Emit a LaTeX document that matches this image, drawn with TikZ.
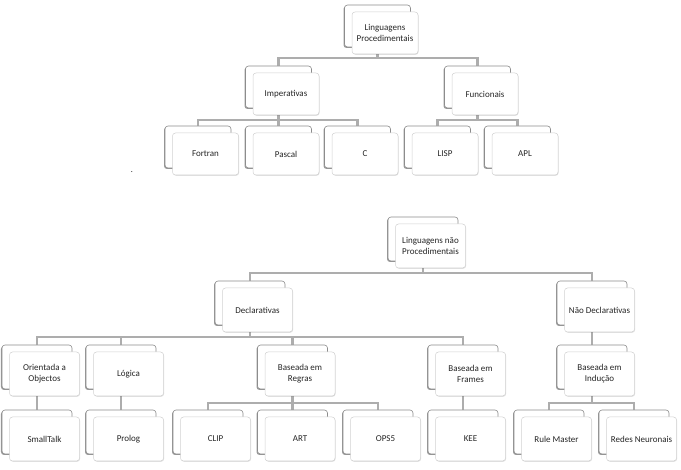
\documentclass[tikz,border=0pt]{standalone}
\usepackage{fontspec}
\setmainfont{Carlito}
\usetikzlibrary{shadows,backgrounds}
\tikzset{
  boxbase/.style={rounded corners=3pt, fill=white, inner sep=0pt, align=center,
    font=\fontsize{9}{11}\selectfont, text=black!85},
  backA/.style={boxbase, minimum width=66pt, minimum height=42pt, draw=black!45, line width=0.6pt,
    drop shadow={shadow xshift=-1pt, shadow yshift=-1pt, opacity=0.4, fill=black}},
  frontA/.style={boxbase, minimum width=66pt, minimum height=42pt, draw=black!18, line width=0.5pt,
    drop shadow={shadow xshift=0.6pt, shadow yshift=-0.8pt, opacity=0.12, fill=black}},
  backB/.style={backA, minimum width=70pt, minimum height=44pt},
  frontB/.style={frontA, minimum width=70pt, minimum height=44pt},
  conn/.style={draw=black!32, line width=2.4pt},
}
\newcommand\dbox[5]{%
  \node[back#1] (#2-b) at (#3,#4) {};
  \node[front#1] (#2) at ([shift={(7.5,7)}]#2-b.center) {#5};}
\begin{document}
\begin{tikzpicture}[x=1pt,y=-1pt]
\useasboundingbox (0,0) rectangle (681,470);
% bus levels
\coordinate (busA) at (0,58);
\coordinate (busB) at (0,120);
\coordinate (busC) at (0,273);
\coordinate (busD) at (0,337);
\coordinate (busE) at (0,403);
% top tree
\dbox{A}{lp}{377.5}{26}{Linguagens\\Procedimentais}
\dbox{A}{imp}{278.5}{87}{Imperativas}
\dbox{A}{fun}{477.5}{87}{Funcionais}
\dbox{A}{for}{198}{147}{Fortran}
\dbox{A}{pas}{278.5}{147}{Pascal}
\dbox{A}{c}{357.5}{147}{C}
\dbox{A}{lisp}{437.5}{147}{LISP}
\dbox{A}{apl}{517.5}{147}{APL}
\node[font=\fontsize{8}{10}\selectfont] (dot) at (132,172) {.};
% bottom tree
\dbox{B}{lnp}{423}{239}{Linguagens não\\Procedimentais}
\dbox{B}{dec}{250}{303}{Declarativas}
\dbox{B}{ndec}{592}{303}{Não Declarativas}
\dbox{B}{ori}{37}{367}{Orientada a\\Objectos}
\dbox{B}{log}{121}{367}{Lógica}
\dbox{B}{reg}{292.5}{367}{Baseada em\\Regras}
\dbox{B}{fra}{463}{367}{Baseada em\\Frames}
\dbox{B}{ind}{592}{367}{Baseada em\\Indução}
\dbox{B}{st}{37}{432}{SmallTalk}
\dbox{B}{pro}{121}{432}{Prolog}
\dbox{B}{clip}{208}{432}{CLIP}
\dbox{B}{art}{292.5}{432}{ART}
\dbox{B}{ops}{378}{432}{OPS5}
\dbox{B}{kee}{463}{432}{KEE}
\dbox{B}{rm}{549}{432}{Rule Master}
\dbox{B}{rn}{634}{432}{Redes Neuronais}
\begin{pgfonlayer}{background}
\foreach \p/\c/\b in {lp/imp/busA, lp/fun/busA,
  imp/for/busB, imp/pas/busB, imp/c/busB, fun/lisp/busB, fun/apl/busB,
  lnp/dec/busC, lnp/ndec/busC,
  dec/ori/busD, dec/log/busD, dec/reg/busD, dec/fra/busD, ndec/ind/busD,
  ori/st/busE, log/pro/busE, reg/clip/busE, reg/art/busE, reg/ops/busE,
  fra/kee/busE, ind/rm/busE, ind/rn/busE}
  \draw[conn] (\p-b.center) -- (\p-b.center |- \b) -| (\c-b.center);
\end{pgfonlayer}
\end{tikzpicture}
\end{document}
